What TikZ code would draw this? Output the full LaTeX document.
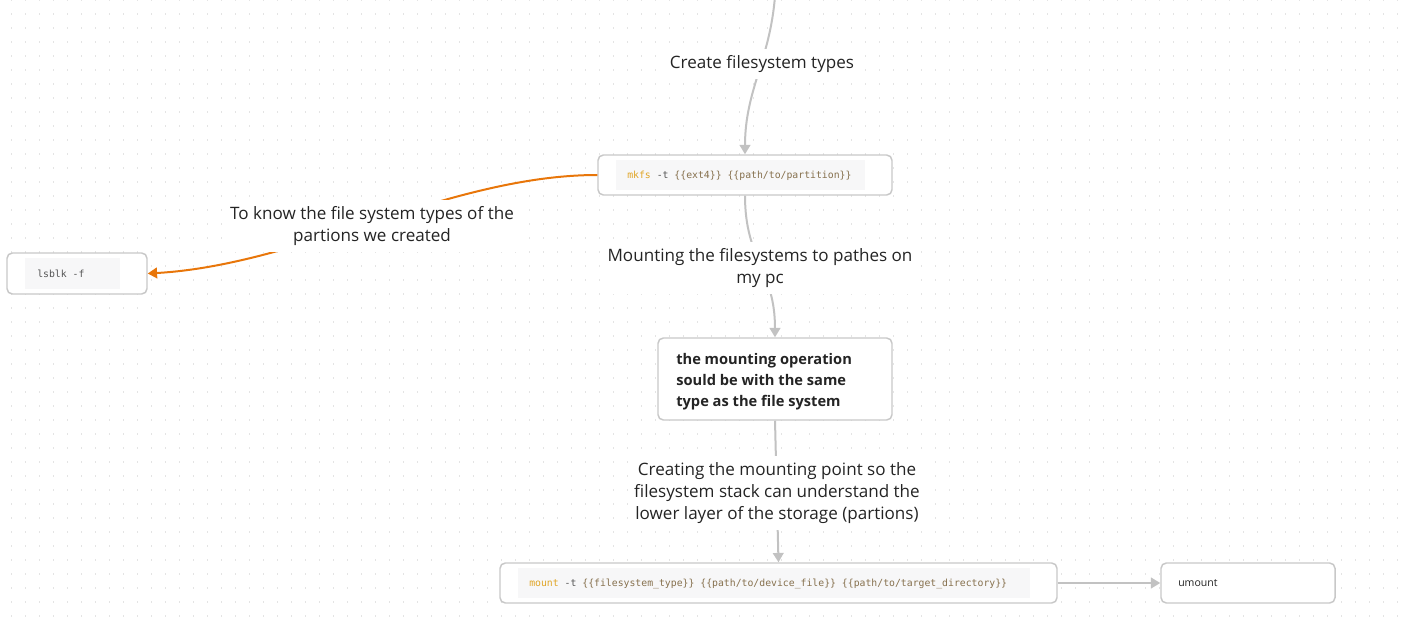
\documentclass[tikz,border=0pt]{standalone}
\usepackage{fontspec}
\setmainfont{Open Sans}
\setmonofont{DejaVu Sans Mono}
\usetikzlibrary{arrows.meta}
\definecolor{dotgrey}{RGB}{228,228,228}
\definecolor{edgegrey}{RGB}{194,194,194}
\definecolor{boxgrey}{RGB}{200,200,200}
\definecolor{codebgcolor}{RGB}{247,247,248}
\definecolor{linkorange}{RGB}{232,118,10}
\definecolor{kwgold}{RGB}{224,165,38}
\definecolor{optgrey}{RGB}{85,85,85}
\definecolor{argbrown}{RGB}{134,112,77}
\definecolor{textdark}{RGB}{36,36,36}
\newcommand{\cmdline}[2]{\ttfamily{\color{kwgold}#1} {\color{optgrey}-t} {\color{argbrown}#2}}

\begin{document}
\begin{tikzpicture}[x=0.75pt,y=-0.75pt,
    box/.style={draw=boxgrey,line width=1.1pt,rounded corners=4pt,fill=white},
    codebg/.style={fill=codebgcolor,inner sep=0pt},
    codetext/.style={anchor=west,inner sep=0pt,font=\ttfamily\fontsize{7.35}{9}\selectfont},
    lbl/.style={fill=white,align=center,text=textdark,inner xsep=4pt,inner ysep=5pt,
      font=\fontsize{12.8}{16.5}\selectfont}]
  \useasboundingbox (0,0) rectangle (1406,618);
  % dotted background:
  \foreach \y in {0,14,...,616}
     \draw[dotgrey,line width=1.1pt,dash pattern=on 1.1pt off 9.4pt] (11,\y) -- (1406,\y);

  \coordinate (start) at (775,-4);

  \node[box,minimum width=220.5pt,minimum height=30pt] (mkfs) at (745,175) {};
  \node[codebg,minimum width=186.75pt,minimum height=22.5pt] (mkfsbg) at (740.5,175) {};
  \node[codetext] (mkfstext) at (627,175.5) {\cmdline{mkfs}{\{\{ext4\}\} \{\{path/to/partition\}\}}};

  \node[box,minimum width=105pt,minimum height=30.75pt] (lsblk) at (77,273.5) {};
  \node[codebg,minimum width=71.25pt,minimum height=23.25pt] (lsblkbg) at (72.5,273.5) {};
  \node[codetext,text=optgrey] (lsblktext) at (37,273.5) {lsblk -f};

  \node[box,minimum width=175.5pt,minimum height=61.5pt] (note) at (775,379) {};
  \node[anchor=west,align=left,inner sep=0pt,text=textdark,
        font=\bfseries\fontsize{11}{15.75}\selectfont] (notetext) at (676,381.5)
     {the mounting operation\\sould be with the same\\type as the file system};

  \node[box,minimum width=417.75pt,minimum height=30pt] (mount) at (778.5,583) {};
  \node[codebg,minimum width=384pt,minimum height=22.5pt] (mountbg) at (774,583) {};
  \node[codetext] (mounttext) at (529,583.5)
     {\cmdline{mount}{\{\{filesystem\_type\}\} \{\{path/to/device\_file\}\} \{\{path/to/target\_directory\}\}}};

  \node[box,minimum width=130.5pt,minimum height=30pt] (umount) at (1248,583) {};
  \node[anchor=west,inner sep=0pt,text=textdark,font=\fontsize{7.9}{9}\selectfont] (umounttext) at (1178,583.5) {umount};

  \begin{scope}[line width=1.5pt,edgegrey,-{Triangle[width=8pt,length=7pt]}]
      % grey links:
      \draw (start) .. controls (770,60) and (745,90) .. (mkfs.north);
      \draw (mkfs.south) .. controls (745,260) and (775,270) .. (note.north);
      \draw (note.south) -- (mount.north);
      \draw (mount.east) -- (umount.west);
  \end{scope}
  \begin{scope}[line width=1.5pt,linkorange,-{Triangle[width=8pt,length=7pt]}]
      % orange link:
      \draw (mkfs.west) .. controls (450,175) and (300,265) .. (lsblk.east);
  \end{scope}

  \node[lbl] (lblcreate) at (762,64) {Create filesystem types};
  \node[lbl] (lblknow) at (372,226) {To know the file system types of the\\partions we created};
  \node[lbl] (lblmounting) at (760,268) {Mounting the filesystems to pathes on\\my pc};
  \node[lbl] (lblpoint) at (777,493) {Creating the mounting point so the\\filesystem stack can understand the\\lower layer of the storage (partions)};
\end{tikzpicture}
\end{document}
